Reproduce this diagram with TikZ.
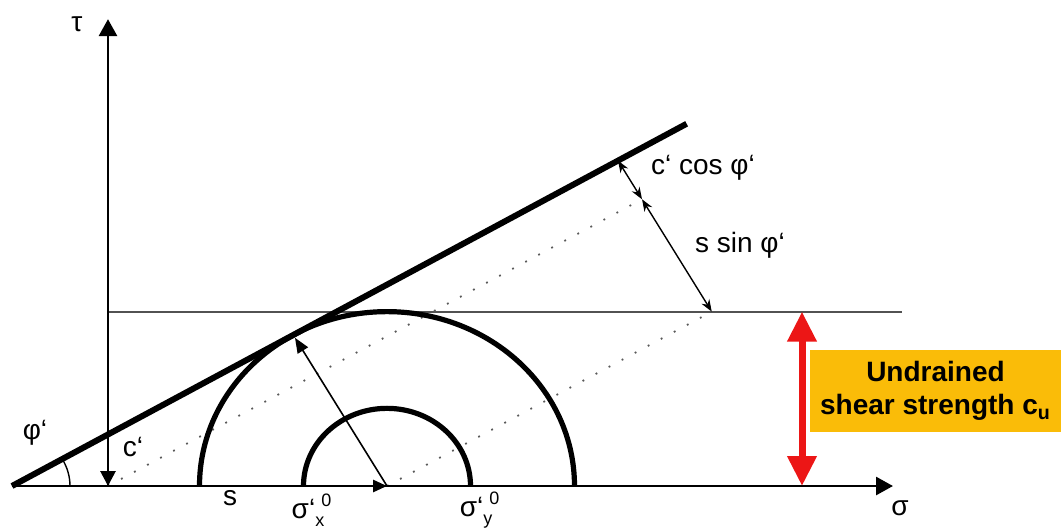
\documentclass[tikz,border=0pt]{standalone}
\usepackage{fontspec}
\setmainfont{Liberation Sans}
\usetikzlibrary{arrows.meta,calc}

\definecolor{cuorange}{RGB}{250,188,8}
\definecolor{cured}{RGB}{236,22,22}

\begin{document}
\begin{tikzpicture}[
  x=0.5pt,
  y=0.465pt,
  font=\fontsize{14}{16}\selectfont,
  axis/.style={draw=black, line width=1.4pt},
  envelope/.style={draw=black, line width=3pt},
  mohr/.style={draw=black, line width=2.6pt},
  guide/.style={draw=black!68, line width=1pt},
  radline/.style={draw=black, line width=0.8pt,
    -{Triangle[length=7.5pt,width=6pt]}},
  dotline/.style={draw=black!65, line width=0.9pt,
    dash pattern=on 0.9pt off 6.5pt},
  dimarrow/.style={draw=black, line width=0.7pt,
    {Stealth[length=6pt,width=4.5pt]}-{Stealth[length=6pt,width=4.5pt]}},
  cuarrow/.style={draw=cured, line width=3.5pt,
    {Triangle[length=15pt,width=14pt]}-{Triangle[length=15pt,width=14pt]}},
  lbl/.style={inner sep=0pt},
  cubox/.style={
    fill=cuorange,
    minimum width=125.5pt,
    minimum height=41pt,
    inner sep=0pt,
    align=center,
    font=\fontsize{14}{16.5}\selectfont\bfseries
  }
]

\useasboundingbox (-108,-44.09) rectangle (953,522.58);

% construction points
\coordinate (O) at (0,0);
\coordinate (A) at (-96,0);
\coordinate (C) at (279,0);
\coordinate (cint) at (0,55.43);
\coordinate (T) at ($(C)+(120:184)$);
\coordinate (Q) at ($(C)+(30:375)$);
\coordinate (F) at ($(Q)+(120:139.5)$);
\coordinate (P) at ($(F)+(120:48)$);
\coordinate (E) at ($(A)+(30:779)$);
\coordinate (h0) at (0,187.5);
\coordinate (h1) at (794,187.5);
\coordinate (taut) at (0,502);
\coordinate (sigt) at (785,0);
\coordinate (cu0) at (694,0);
\coordinate (cu1) at (694,187.5);

\draw[guide] (h0) -- (h1);
\draw[dotline] (O) -- (F);
\draw[dotline] (C) -- (Q);

\draw[axis, -{Triangle[length=8.5pt,width=9pt]}] (A) -- (sigt);
\draw[axis, -{Triangle[length=8.5pt,width=9pt]}] (O) -- (taut);
\draw[axis, -{Triangle[length=7.5pt,width=7.5pt]}] (cint) -- (O);
\draw[axis, -{Triangle[length=7pt,width=6pt]}] (O) -- (C);

\draw[mohr] ($(C)+(187.5,0)$) arc[start angle=0, end angle=180, radius=187.5];
\draw[mohr] ($(C)+(83.5,0)$) arc[start angle=0, end angle=180, radius=83.5];
\draw[envelope] (A) -- (E);
\draw[radline] (C) -- (T);

\draw[line width=0.7pt] ($(A)+(58,0)$) arc[start angle=0, end angle=30, radius=58];

\draw[dimarrow] (P) -- (F);
\draw[dimarrow] (F) -- (Q);

\draw[cuarrow] (cu0) -- (cu1);

% labels
\node[lbl] (tau) at (-31,496) {τ};
\node[lbl] (sig) at (792,-24) {σ};
\node[lbl] (phi) at (-73,57) {φ‘};
\node[lbl] (cprime) at (25,42) {c‘};
\node[lbl] (s) at (122,-13) {s};
\node[lbl] (sx) at (200,-26)
  {σ‘\makebox[0pt][l]{\raisebox{0.8ex}{\small\,\,0}}\raisebox{-0.5ex}{\small x}};
\node[lbl] (sy) at (368,-26)
  {σ‘\makebox[0pt][l]{\raisebox{0.8ex}{\small\,\,0}}\raisebox{-0.5ex}{\small y}};
\node[lbl] (ccos) at (595,342) {c‘ cos φ‘};
\node[lbl] (ssin) at (632,259) {s sin φ‘};

\node[cubox] (cu) at (827.5,102.1)
  {Undrained\\shear strength c\textsubscript{u}};

\end{tikzpicture}
\end{document}
